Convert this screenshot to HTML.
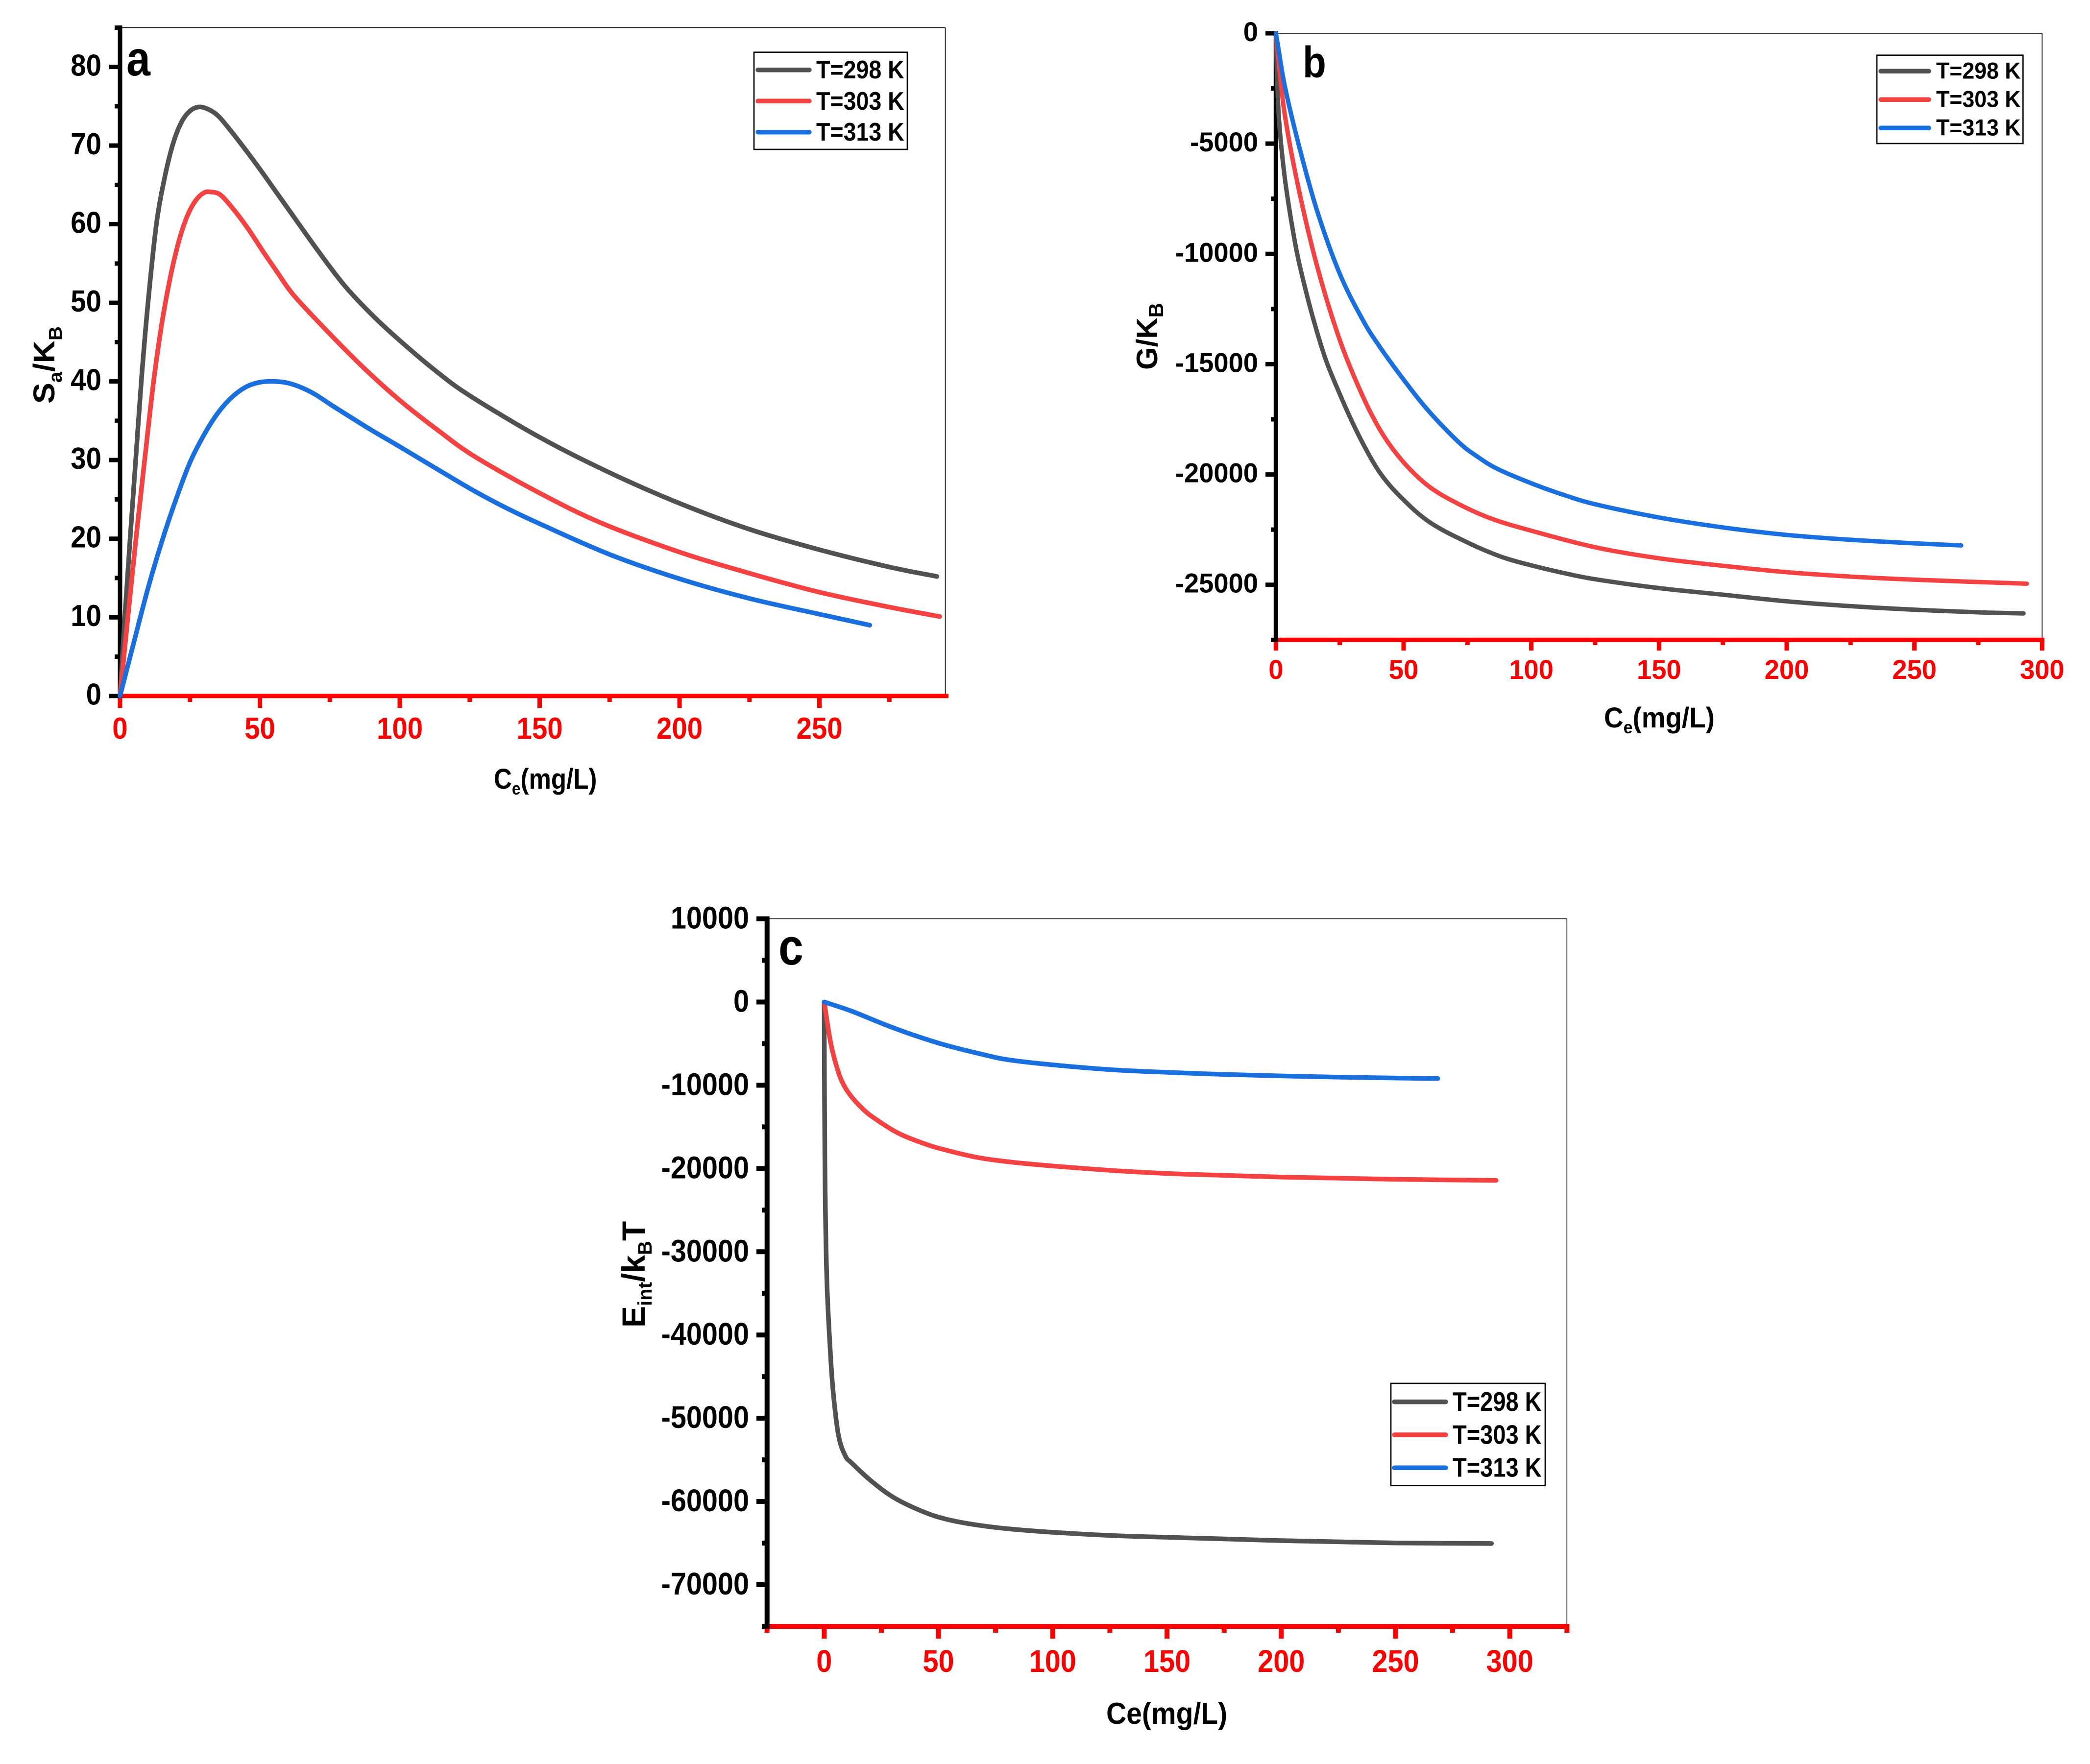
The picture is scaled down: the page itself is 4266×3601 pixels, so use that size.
<!DOCTYPE html>
<html>
<head>
<meta charset="utf-8">
<title>Sa/KB, G/KB and Eint/kBT versus Ce</title>
<style>
html,body{margin:0;padding:0;background:#fff;}
svg{display:block;}
text{font-family:"Liberation Sans",sans-serif;font-weight:bold;}
</style>
</head>
<body>
<svg id="figure" xmlns="http://www.w3.org/2000/svg" width="4266" height="3601" viewBox="0 0 4266 3601">
<rect x="0" y="0" width="4266" height="3601" fill="#fff"/>
<g id="panel-a"></g>
<g id="panel-b"></g>
<g id="panel-c"></g>

<text transform="translate(258,154) scale(.88,1)" font-size="100">a</text>
<text transform="translate(2659,158) scale(.87,1)" font-size="90">b</text>
<text transform="translate(1589,1969) scale(.87,1)" font-size="105">c</text>

<text transform="translate(1008,1610) scale(.88,1)" font-size="58">C<tspan font-size="36" dy="12">e</tspan><tspan dy="-12">(mg/L)</tspan></text>
<text transform="translate(3274,1485) scale(.945,1)" font-size="58">C<tspan font-size="36" dy="12">e</tspan><tspan dy="-12">(mg/L)</tspan></text>
<text transform="translate(2258,3519) scale(.92,1)" font-size="62">Ce(mg/L)</text>

<text transform="translate(111,824) rotate(-90) scale(1.05,1)" font-size="61">S<tspan font-size="38" dy="15">a</tspan><tspan dy="-15">/K</tspan><tspan font-size="38" dy="15">B</tspan></text>
<text transform="translate(2362,755) rotate(-90)" font-size="60">G/K<tspan font-size="42" dy="12">B</tspan></text>
<text transform="translate(1316,2710) rotate(-90)" font-size="66">E<tspan font-size="40" dy="14">int</tspan><tspan dy="-14">/k</tspan><tspan font-size="40" dy="14">B</tspan><tspan dy="-14">T</tspan></text>
</svg>

<script>
// Shared series
const seriesLabels = ["T=298 K", "T=303 K", "T=313 K"];
const seriesColors = ["#515151", "#F44242", "#1A6FDF"];

// Panel a: Sa/KB vs Ce
const aXTicks = [0, 50, 100, 150, 200, 250];
const aXMinor = [25, 75, 125, 175, 225, 275];
const aYTicks = [0, 10, 20, 30, 40, 50, 60, 70, 80];
const aYMinor = [5, 15, 25, 35, 45, 55, 65, 75, 85];
const aX298 = [0, 1.7, 3.6, 5.6, 7.6, 10, 13, 16, 19, 22, 25, 28, 31, 35, 40, 45, 50, 55, 60, 70, 80, 90, 100, 113, 125, 150, 175, 200, 225, 250, 275, 292];
const aY298 = [0, 10, 20, 30, 40, 50, 60, 66, 70.3, 73, 74.4, 74.9, 74.7, 73.8, 71.7, 69.4, 67, 64.5, 62, 57, 52.3, 48.5, 45.2, 41.3, 38.2, 32.9, 28.4, 24.5, 21.2, 18.6, 16.4, 15.2];
const aX303 = [0, 2.8, 5.7, 8.8, 12, 15, 18, 21, 24, 27, 30, 32.5, 36, 41, 46, 51, 56, 62, 73.5, 86.9, 100, 113.6, 127, 150, 172, 200, 225, 250, 275, 293];
const aY303 = [0, 10, 20, 30, 40, 47.5, 53.3, 57.8, 61, 63, 64, 64.1, 63.7, 61.7, 59.3, 56.6, 54, 51, 46.6, 41.8, 37.6, 33.8, 30.4, 25.8, 22, 18.3, 15.6, 13.2, 11.3, 10.1];
const aX313 = [0, 5, 10, 15, 20, 25, 30, 35, 40, 45, 50, 55, 60, 65, 70, 76, 89, 100, 113.6, 125, 137, 150, 175, 200, 225, 250, 268];
const aY313 = [0, 6.9, 13.7, 19.7, 25, 29.7, 33.2, 36, 38, 39.3, 39.9, 40, 39.8, 39.2, 38.3, 36.9, 34, 31.7, 28.8, 26.4, 24.1, 21.9, 18, 14.9, 12.4, 10.4, 9];

// Panel b: G/KB vs Ce
const bXTicks = [0, 50, 100, 150, 200, 250, 300];
const bXMinor = [25, 75, 125, 175, 225, 275];
const bYTicks = [0, -5000, -10000, -15000, -20000, -25000];
const bYMinor = [-2500, -7500, -12500, -17500, -22500, -27500];
const bX298 = [0, 0.5, 1, 2, 4, 8, 12, 16, 20, 25, 30, 35, 40, 45, 50, 55, 60, 65, 70, 80, 90, 100, 112, 125, 150, 175, 200, 225, 250, 275, 292.7];
const bY298 = [0, -2000, -3500, -5000, -7000, -9800, -11800, -13500, -14950, -16350, -17650, -18800, -19800, -20550, -21150, -21700, -22150, -22500, -22800, -23350, -23800, -24120, -24450, -24750, -25150, -25450, -25750, -25970, -26130, -26250, -26300];
const bX303 = [0, 1, 3.5, 8.6, 16, 25, 33.8, 41.4, 50, 60, 71.7, 84.3, 100, 125, 150, 175, 200, 225, 250, 294];
const bY303 = [0, -1200, -3700, -6880, -10500, -13900, -16400, -18100, -19450, -20550, -21350, -22000, -22550, -23300, -23800, -24140, -24430, -24630, -24770, -24950];
const bX313 = [0, 1, 3.5, 8.6, 16, 25, 33.8, 40, 50, 60, 71.7, 79, 86.8, 100, 112, 125, 150, 175, 200, 225, 250, 268.3];
const bY313 = [0, -700, -2400, -4900, -8000, -10900, -12950, -14100, -15700, -17150, -18550, -19200, -19750, -20400, -20900, -21350, -21950, -22400, -22740, -22960, -23120, -23217];

// Panel c: Eint/kBT vs Ce
const cXTicks = [0, 50, 100, 150, 200, 250, 300];
const cXMinor = [-25, 25, 75, 125, 175, 225, 275, 325];
const cYTicks = [10000, 0, -10000, -20000, -30000, -40000, -50000, -60000, -70000];
const cYMinor = [5000, -5000, -15000, -25000, -35000, -45000, -55000, -65000, -75000];
const cX298 = [0, 0.3, 1.1, 2.6, 4, 6.3, 9.2, 12, 20.6, 30.7, 43.6, 53.6, 66.5, 80.8, 100, 126.6, 150, 175, 200, 225, 250, 292];
const cY298 = [0, -19340, -32860, -41650, -47060, -52130, -54500, -55370, -57540, -59570, -61260, -62140, -62810, -63290, -63700, -64100, -64300, -64500, -64700, -64840, -64980, -65050];
const cX303 = [0, 3, 6.3, 9, 12, 16, 20.6, 32, 43.6, 52, 66.5, 80.8, 100, 126.6, 150, 175, 200, 225, 250, 294];
const cY303 = [0, -5140, -8500, -10200, -11400, -12600, -13700, -15700, -17000, -17700, -18650, -19200, -19700, -20250, -20600, -20825, -21030, -21160, -21300, -21430];
const cX313 = [0, 12, 26.4, 37.8, 52, 69.3, 80.8, 100, 126.6, 150, 175, 200, 225, 250, 268.5];
const cY313 = [0, -1100, -2700, -3850, -5100, -6300, -6950, -7550, -8150, -8450, -8700, -8880, -9030, -9130, -9200];

const SVGNS = "http://www.w3.org/2000/svg";

function makeEl(parent, tag, props) {
  const el = document.createElementNS(SVGNS, tag);
  for (const k in props) el.setAttribute(k, props[k]);
  parent.appendChild(el);
  return el;
}

function smoothPath(pts) {
  let d = "M" + pts[0][0].toFixed(2) + " " + pts[0][1].toFixed(2);
  for (let i = 0; i < pts.length - 1; i++) {
    const p0 = pts[Math.max(i - 1, 0)], p1 = pts[i], p2 = pts[i + 1], p3 = pts[Math.min(i + 2, pts.length - 1)];
    const c1x = p1[0] + (p2[0] - p0[0]) / 6, c1y = p1[1] + (p2[1] - p0[1]) / 6;
    const c2x = p2[0] - (p3[0] - p1[0]) / 6, c2y = p2[1] - (p3[1] - p1[1]) / 6;
    d += "C" + c1x.toFixed(2) + " " + c1y.toFixed(2) + " " + c2x.toFixed(2) + " " + c2y.toFixed(2) + " " + p2[0].toFixed(2) + " " + p2[1].toFixed(2);
  }
  return d;
}

function drawPanel(id, g) {
  const root = document.getElementById("panel-" + id);
  const sx = v => g.left + (v - g.xMin) / (g.xMax - g.xMin) * (g.right - g.left);
  const sy = v => g.top + (g.yMax - v) / (g.yMax - g.yMin) * (g.bottom - g.top);

  // frame
  const frameTop = makeEl(root, "line", {x1: g.left, y1: g.top, x2: g.right, y2: g.top, stroke: "#000", "stroke-width": 1.6});
  
  
  const frameRight = makeEl(root, "line", {x1: g.right, y1: g.top, x2: g.right, y2: g.bottom, stroke: "#000", "stroke-width": 1.6});
  
  

  // x axis
  const xAxis = makeEl(root, "line", {x1: g.left, y1: g.bottom, x2: g.right + g.axW / 2 + (g.xEndPad || 0), y2: g.bottom, stroke: "#f00", "stroke-width": g.axW});
  
  
  g.xMinor.forEach(v => {
    const t = makeEl(root, "line", {x1: sx(v), y1: g.bottom, x2: sx(v), y2: g.xMinorEnd, stroke: "#f00", "stroke-width": g.axW});
    
    
  });
  g.xTicks.forEach(v => {
    const t = makeEl(root, "line", {x1: sx(v), y1: g.bottom, x2: sx(v), y2: g.xMajorEnd, stroke: "#f00", "stroke-width": g.axW});
    
    
    const lb = makeEl(root, "text", {transform: "translate(" + sx(v) + "," + g.xLabelY + ") scale(" + g.labelSx + ",1)", "text-anchor": "middle", "font-size": g.labelFs, fill: "#f00"});
    
    
    lb.textContent = String(v);
  });

  // y axis
  const yAxis = makeEl(root, "line", {x1: g.left, y1: g.top - g.axW / 2, x2: g.left, y2: g.bottom + g.axW / 2, stroke: "#000", "stroke-width": g.axW});
  
  
  g.yMinor.forEach(v => {
    const t = makeEl(root, "line", {x1: g.left, y1: sy(v), x2: g.yMinorEnd, y2: sy(v), stroke: "#000", "stroke-width": g.axW});
    
    
  });
  g.yTicks.forEach(v => {
    const t = makeEl(root, "line", {x1: g.left, y1: sy(v), x2: g.yMajorEnd, y2: sy(v), stroke: "#000", "stroke-width": g.axW});
    
    
    const lb = makeEl(root, "text", {transform: "translate(" + g.yLabelX + "," + (sy(v) + g.yLabelDy) + ") scale(" + g.labelSx + ",1)", "text-anchor": "end", "font-size": g.labelFs, fill: "#000"});
    
    
    lb.textContent = String(v);
  });

  // series
  g.series.forEach((s, i) => {
    const pts = s.x.map((xv, k) => [sx(xv), sy(s.y[k])]);
    const p = makeEl(root, "path", {d: smoothPath(pts), fill: "none", stroke: seriesColors[i], "stroke-width": g.lineW, "stroke-linecap": "round", "stroke-linejoin": "round"});
    
    
  });

  // legend
  const L = g.legend;
  const box = makeEl(root, "rect", {x: L.x0, y: L.y0, width: L.x1 - L.x0, height: L.y1 - L.y0, fill: "#fff", stroke: "#000", "stroke-width": 2.7});
  
  
  seriesLabels.forEach((label, i) => {
    const ln = makeEl(root, "line", {x1: L.lx0, y1: L.lineY[i], x2: L.lx1, y2: L.lineY[i], stroke: seriesColors[i], "stroke-width": 9.5, "stroke-linecap": "round"});
    
    
    const tx = makeEl(root, "text", {transform: "translate(" + L.tx + "," + L.textY[i] + ") scale(" + L.tsx + ",1)", "font-size": L.fs, fill: "#000", "xml:space": "preserve"});
    
    
    tx.textContent = label;
  });
}

drawPanel("a", {
  left: 245, right: 1929.5, top: 56.4, bottom: 1420.7,
  xMin: 0, xMax: 295, yMin: 0, yMax: 85,
  xTicks: aXTicks, xMinor: aXMinor, yTicks: aYTicks, yMinor: aYMinor,
  axW: 9, lineW: 9.5, xMinorEnd: 1433, xMajorEnd: 1445, yMinorEnd: 234, yMajorEnd: 223,
  labelFs: 62, labelSx: 0.91, xLabelY: 1508, yLabelX: 207, yLabelDy: 18, xEndPad: 2,
  series: [{x: aX298, y: aY298}, {x: aX303, y: aY303}, {x: aX313, y: aY313}],
  legend: {x0: 1539, x1: 1852, y0: 106.7, y1: 305, lx0: 1547, lx1: 1652, lineY: [142.7, 206.3, 269.7],
    tx: 1666, textY: [160, 224, 287], fs: 52, tsx: 0.895}
});

drawPanel("b", {
  left: 2604.3, right: 4168.3, top: 68, bottom: 1306.3,
  xMin: 0, xMax: 300, yMin: -27500, yMax: 0,
  xTicks: bXTicks, xMinor: bXMinor, yTicks: bYTicks, yMinor: bYMinor,
  axW: 9, lineW: 9, xMinorEnd: 1317, xMajorEnd: 1328, yMinorEnd: 2594, yMajorEnd: 2583,
  labelFs: 56, labelSx: 0.97, xLabelY: 1386, yLabelX: 2568, yLabelDy: 16, xEndPad: 0,
  series: [{x: bX298, y: bY298}, {x: bX303, y: bY303}, {x: bX313, y: bY313}],
  legend: {x0: 3831, x1: 4129.3, y0: 112.7, y1: 293, lx0: 3839, lx1: 3937, lineY: [145.3, 203.3, 261.3],
    tx: 3952, textY: [160.7, 218.7, 276.7], fs: 47, tsx: 0.95}
});

drawPanel("c", {
  left: 1565.7, right: 3198.3, top: 1875.5, bottom: 3320,
  xMin: -25, xMax: 325, yMin: -75000, yMax: 10000,
  xTicks: cXTicks, xMinor: cXMinor, yTicks: cYTicks, yMinor: cYMinor,
  axW: 10, lineW: 9.5, xMinorEnd: 3333, xMajorEnd: 3345, yMinorEnd: 1555, yMajorEnd: 1544,
  labelFs: 64, labelSx: 0.9, xLabelY: 3413, yLabelX: 1529, yLabelDy: 20, xEndPad: 0,
  series: [{x: cX298, y: cY298}, {x: cX303, y: cY303}, {x: cX313, y: cY313}],
  legend: {x0: 2839, x1: 3154, y0: 2824, y1: 3032.7, lx0: 2846, lx1: 2951, lineY: [2861.7, 2929, 2996.3],
    tx: 2965, textY: [2880, 2947.7, 3014.7], fs: 55, tsx: 0.855}
});
</script>
</body>
</html>
